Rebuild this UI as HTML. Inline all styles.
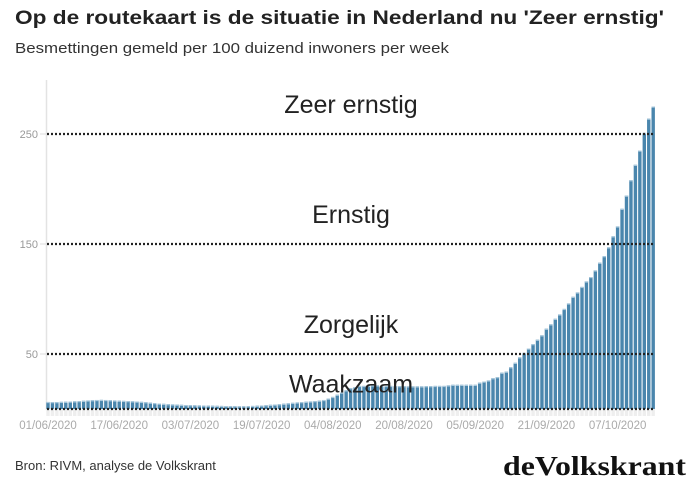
<!DOCTYPE html>
<html><head><meta charset="utf-8"><style>
html,body{margin:0;padding:0;background:#fff;}
svg{display:block;font-family:"Liberation Sans",sans-serif;}
</style></head><body>
<svg id="chart" width="694" height="479">
<text x="15" y="24" font-size="19" font-weight="bold" fill="#222" textLength="649" lengthAdjust="spacingAndGlyphs">Op de routekaart is de situatie in Nederland nu 'Zeer ernstig'</text>
<text x="15" y="53" font-size="15" fill="#333" textLength="434" lengthAdjust="spacingAndGlyphs">Besmettingen gemeld per 100 duizend inwoners per week</text>
<line x1="46.5" y1="80" x2="46.5" y2="410" stroke="#e3e3e3" stroke-width="1.5"/>
<g id="ticks"></g>
<g id="bars"></g>
<g id="thresholds"></g>
<g id="ylabels"></g>
<g id="xlabels"></g>
<text x="15" y="470" font-size="13" fill="#333">Bron: RIVM, analyse de Volkskrant</text>
<text x="686" y="475" text-anchor="end" font-family="Liberation Serif,serif" font-weight="bold" font-size="27" fill="#111" textLength="183" lengthAdjust="spacingAndGlyphs">deVolkskrant</text>
</svg>
<script>
const values = [6.4,6.3,6.3,6.5,6.6,6.8,7,7.2,7.5,7.8,
8,8.2,8.3,8.2,8,7.8,7.6,7.4,7.2,7,
6.8,6.5,6.2,5.8,5.4,5,4.7,4.4,4.2,4,
3.8,3.6,3.5,3.4,3.3,3.2,3.1,3,2.9,2.8,
2.7,2.6,2.6,2.5,2.5,2.6,2.8,3,3.2,3.5,
3.8,4.1,4.4,4.8,5.2,5.6,6,6.3,6.6,6.9,7.2,
7.6,8.2,9.5,11,13,15,17,19,20,21,
21,21,21.5,21.5,21,21,21,20.8,20.8,20.8,
20.6,20.6,20.6,20.6,20.8,20.8,21,21,21,21.5,22,
22,22,22,22,
22,24,25,26,28,29,33,34,38,42,47,51,55,59,63,67,73,77,82,86,91,96,102,106,111,116,120,126,133,139,147,157,166,182,194,208,222,235,251,264,275];
const thresholdValues = [250,150,50,0];
const thresholdNames = ["Zeer ernstig","Ernstig","Zorgelijk","Waakzaam"];
const thresholdLabelValues = [19,19,19,15];
const yTicks = [250,150,50];
const xTickLabels = ["01/06/2020","17/06/2020","03/07/2020","19/07/2020","04/08/2020","20/08/2020","05/09/2020","21/09/2020","07/10/2020"];
const xTickIndex = [0,16,32,48,64,80,96,112,128];

const NS="http://www.w3.org/2000/svg";
const x0=48, dx=4.45;
function xs(i){return x0+i*dx;}
function ys(v){return 409-v*1.1;}
function mk(tag,attrs,parent){const e=document.createElementNS(NS,tag);for(const k in attrs)e.setAttribute(k,attrs[k]);parent.appendChild(e);return e;}
const bars=document.getElementById('bars'), ticks=document.getElementById('ticks');
values.forEach((v,i)=>{
  const t=mk('rect',{x:xs(i)-1.7,y:409,width:3.4,height:7,fill:'#eeeeee'},ticks);
  
  
  const r=mk('rect',{x:xs(i)-1.7,y:ys(v),width:3.4,height:409-ys(v),fill:'#4a86ad'},bars);
  
  
  const h=mk('rect',{x:xs(i)-1.7,y:ys(v),width:3.4,height:1.2,fill:'#a9c8dc'},bars);
  
  
});
const th=document.getElementById('thresholds');
thresholdValues.forEach((v,i)=>{
  const l=mk('line',{x1:47,x2:655,y1:ys(v),y2:ys(v),stroke:'#222','stroke-width':2.2,'stroke-dasharray':'2 2'},th);
  
  
  const t=mk('text',{x:351,y:ys(v+thresholdLabelValues[i]),'text-anchor':'middle','font-size':25,fill:'#222'},th);
  t.textContent=thresholdNames[i];
  
  
});
const yl=document.getElementById('ylabels');
yTicks.forEach(v=>{
  const t=mk('text',{x:38,y:ys(v)+4,'text-anchor':'end','font-size':11,fill:'#999'},yl);
  t.textContent=v;
  
  
  const l=mk('line',{x1:40,x2:46,y1:ys(v),y2:ys(v),stroke:'#ddd'},yl);
  
  
});
const xl=document.getElementById('xlabels');
xTickLabels.forEach((s,i)=>{
  const t=mk('text',{x:xs(xTickIndex[i]),y:429,'text-anchor':'middle','font-size':11.5,fill:'#aaa'},xl);
  t.textContent=s;
  
  
});
</script>
</body></html>
